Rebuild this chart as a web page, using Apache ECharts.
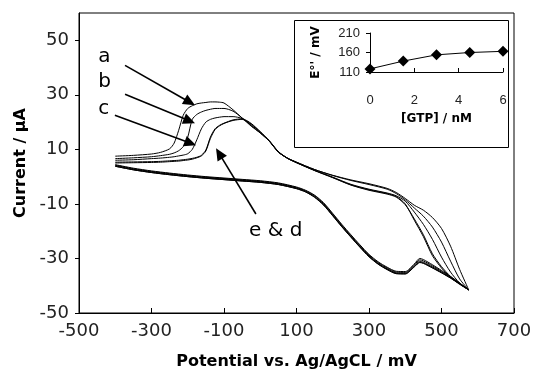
<!DOCTYPE html>
<html><head><meta charset="utf-8">
<script src="https://cdn.jsdelivr.net/npm/echarts@6/dist/echarts.min.js"></script>
<style>html,body{margin:0;padding:0;background:#fff}#c{width:533px;height:372px}</style>
</head><body><div id="c"></div>
<script>
// ---------- main CV data (potential mV, current µA) ----------
const forwardPotential = [-400,-350,-300,-275,-250,-237.5,-225,-212.5,-200,-187.5,-175,-162.5,-150,-137.5,-125,-112.5,-100,-75,-50,-25,0,25,50,75,100,150,200,250,300,350,375,400,425,450,475,500,525,550,575];
const reversePotential = [550,525,500,475,450,440,425,400,375,350,325,300,275,250,225,200,175,150,125,100,50,0,-50,-100,-150,-200,-250,-300,-350,-400];

const curveA_forward = [7.5,7.8,8.3,8.9,10.2,12.3,17.0,22.5,25.0,26.0,26.7,27.0,27.2,27.4,27.4,27.3,27.0,24.5,21.5,18.7,16.0,13.0,9.0,6.8,5.3,2.6,0.5,-1.2,-2.6,-4.3,-5.8,-8.0,-10.5,-12.3,-15.0,-19.0,-25.5,-34.0,-41.5];
const curveB_forward = [6.6,6.9,7.3,7.7,8.2,8.7,9.5,11.0,14.5,21.0,22.8,23.7,24.3,24.7,25.0,25.0,25.0,24.0,21.5,18.5,16.0,13.0,9.0,6.8,5.3,2.6,0.4,-1.4,-2.9,-4.6,-6.2,-8.5,-11.5,-14.5,-18.5,-24.0,-31.0,-37.5,-41.5];
const curveC_forward = [6.0,6.2,6.6,6.8,7.1,7.3,7.6,7.9,8.4,10.0,13.5,17.5,20.0,21.0,21.5,21.8,22.0,22.0,21.3,19.0,16.2,13.0,9.0,6.7,5.1,2.3,-0.2,-2.8,-4.6,-6.0,-7.0,-9.0,-13.0,-17.5,-23.0,-29.5,-35.0,-39.0,-41.5];
const curveD_forward = [5.3,5.4,5.5,5.6,5.8,5.9,6.0,6.2,6.4,6.7,7.1,7.8,9.8,14.5,17.5,18.8,19.6,20.8,21.2,19.5,16.5,13.2,9.2,6.8,5.2,2.3,-0.3,-3.0,-4.8,-6.2,-7.3,-10.0,-16.0,-22.0,-29.0,-33.5,-37.0,-39.5,-41.5];
const curveE_forward = [5.0,5.1,5.2,5.3,5.5,5.6,5.7,5.9,6.1,6.4,6.9,7.6,9.4,14.0,17.2,18.6,19.5,20.6,21.0,19.3,16.4,13.1,9.1,6.7,5.1,2.2,-0.4,-3.1,-5.0,-6.4,-7.5,-10.3,-15.5,-21.3,-28.3,-33.0,-36.6,-39.3,-41.5];

const curveA_reverse = [-39.0,-36.6,-34.4,-32.3,-30.4,-30.0,-32.0,-34.8,-34.7,-33.2,-31.2,-28.5,-25.0,-21.3,-17.5,-13.5,-9.6,-6.8,-5.0,-3.8,-2.3,-1.5,-1.0,-0.5,0.0,0.6,1.3,2.1,3.1,4.4];
const curveB_reverse = [-39.1,-36.8,-34.7,-32.7,-30.9,-30.5,-32.4,-35.1,-35.0,-33.5,-31.5,-28.8,-25.3,-21.6,-17.8,-13.8,-9.9,-7.0,-5.2,-4.0,-2.5,-1.7,-1.2,-0.7,-0.2,0.4,1.1,1.9,2.9,4.2];
const curveC_reverse = [-39.2,-37.0,-35.0,-33.1,-31.4,-31.0,-32.8,-35.4,-35.3,-33.8,-31.8,-29.1,-25.6,-21.9,-18.1,-14.1,-10.2,-7.3,-5.4,-4.2,-2.7,-1.9,-1.4,-0.9,-0.4,0.2,0.9,1.7,2.7,4.0];
const curveD_reverse = [-39.3,-37.2,-35.3,-33.5,-31.8,-31.5,-33.1,-35.7,-35.6,-34.1,-32.1,-29.4,-25.9,-22.2,-18.4,-14.4,-10.5,-7.6,-5.6,-4.4,-2.9,-2.1,-1.6,-1.1,-0.6,0.0,0.7,1.5,2.5,3.8];
const curveE_reverse = [-39.3,-37.2,-35.2,-33.4,-31.7,-31.4,-33.0,-35.6,-35.5,-34.0,-32.0,-29.3,-25.8,-22.1,-18.3,-14.3,-10.4,-7.5,-5.6,-4.4,-2.9,-2.1,-1.6,-1.1,-0.6,0.0,0.7,1.5,2.5,3.8];

const curveNames = ['a','b','c','d','e'];
const xTickValues = [-500,-300,-100,100,300,500,700];
const yTickValues = [-50,-30,-10,10,30,50];

// ---------- inset data ----------
const gtpConc = [0,1.5,3,4.5,6];
const formalPotential = [118,138,154,160,163];
const insetXTicks = [0,2,4,6];
const insetYTicks = [110,160,210];

// ---------- annotations (data coordinates) ----------
const labelTexts = ['a','b','c','e & d'];
const labelPositions = [[-447,44.0],[-447,34.6],[-447,24.8],[-31,-20.0]];
const arrowStarts = [[-373,40.8],[-373,30.2],[-401,22.5],[-12,-13.7]];
const arrowTips   = [[-180,26.2],[-180,19.6],[-177,11.5],[-122,10.4]];

const fwd = [curveA_forward,curveB_forward,curveC_forward,curveD_forward,curveE_forward];
const rev = [curveA_reverse,curveB_reverse,curveC_reverse,curveD_reverse,curveE_reverse];

function loop(i){
  const d = forwardPotential.map((p,k)=>[p,fwd[i][k]]);
  return d.concat(reversePotential.map((p,k)=>[p,rev[i][k]]));
}

const chart = echarts.init(document.getElementById('c'), null, {renderer:'canvas'});
const FONT = 'DejaVu Sans';
const cvSeries = curveNames.map((n,i)=>({
  name:n, type:'line', xAxisIndex:0, yAxisIndex:0, data:loop(i),
  showSymbol:false, smooth:0.25, lineStyle:{color:'#000',width:1}, silent:true, animation:false
}));

chart.setOption({
  animation:false,
  backgroundColor:'#fff',
  grid:[
    {left:79, top:13, right:19, bottom:59, show:true, borderColor:'#000', borderWidth:1, backgroundColor:'transparent', containLabel:false, outerBoundsMode:'none'},
    {left:370, top:33, width:133, height:39, containLabel:false, outerBoundsMode:'none'}
  ],
  xAxis:[
    {type:'value', gridIndex:0, min:-500, max:700, interval:200,
     axisLine:{show:true, onZero:false, lineStyle:{color:'#000',width:1}},
     axisTick:{show:true, inside:true, length:5, lineStyle:{color:'#000'}, customValues:xTickValues},
     axisLabel:{fontFamily:FONT, fontSize:18, color:'#222', margin:9, customValues:xTickValues},
     splitLine:{show:false},
     name:'Potential vs. Ag/AgCL / mV', nameLocation:'middle', nameGap:41,
     nameTextStyle:{fontFamily:FONT, fontWeight:'bold', fontSize:16, color:'#000'}},
    {type:'value', gridIndex:1, min:0, max:6, interval:2,
     axisLine:{show:true, onZero:false, lineStyle:{color:'#000',width:1}},
     axisTick:{show:true, inside:true, length:4, lineStyle:{color:'#000'}, customValues:insetXTicks},
     axisLabel:{fontFamily:'Liberation Sans', fontSize:13, color:'#222', margin:22, customValues:insetXTicks},
     splitLine:{show:false},
     name:'[GTP] / nM', nameLocation:'middle', nameGap:41,
     nameTextStyle:{fontFamily:FONT, fontWeight:'bold', fontSize:12, color:'#000'}}
  ],
  yAxis:[
    {type:'value', gridIndex:0, min:-50, max:60, interval:20,
     axisLine:{show:true, onZero:false, lineStyle:{color:'#000',width:1}},
     axisTick:{show:true, inside:false, length:4, lineStyle:{color:'#000'}, customValues:yTickValues},
     axisLabel:{fontFamily:FONT, fontSize:18, color:'#222', margin:10, customValues:yTickValues},
     splitLine:{show:false},
     name:'Current / μA', nameLocation:'middle', nameGap:44,
     nameTextStyle:{fontFamily:FONT, fontWeight:'bold', fontSize:16, color:'#000'}},
    {type:'value', gridIndex:1, min:110, max:210, interval:50,
     axisLine:{show:true, onZero:false, lineStyle:{color:'#000',width:1}},
     axisTick:{show:true, inside:false, length:4, lineStyle:{color:'#000'}, customValues:insetYTicks},
     axisLabel:{fontFamily:'Liberation Sans', fontSize:13, color:'#222', margin:10, customValues:insetYTicks},
     splitLine:{show:false},
     name:"E°' / mV", nameLocation:'middle', nameGap:48,
     nameTextStyle:{fontFamily:FONT, fontWeight:'bold', fontSize:12, color:'#000'}}
  ],
  series: cvSeries.concat([{
    name:'inset', type:'line', xAxisIndex:1, yAxisIndex:1,
    data: gtpConc.map((g,i)=>[g,formalPotential[i]]),
    symbol:'diamond', symbolSize:11, showSymbol:true,
    itemStyle:{color:'#000'}, lineStyle:{color:'#000',width:1}, silent:true
  }])
});

// annotations, placed from data coordinates
const g = [];
g.push({type:'rect', shape:{x:294.5,y:20.5,width:214,height:127}, style:{fill:'none',stroke:'#000',lineWidth:1}, z:10});
labelTexts.forEach((t,i)=>{
  const p = chart.convertToPixel({gridIndex:0}, labelPositions[i]);
  g.push({type:'text', x:p[0], y:p[1], z:10,
    style:{text:t, font:'20px "DejaVu Sans"', fill:'#000', align:'left', verticalAlign:'middle', textAlign:'left', textVerticalAlign:'middle'}});
});
arrowStarts.forEach((s,i)=>{
  const p0 = chart.convertToPixel({gridIndex:0}, s);
  const p1 = chart.convertToPixel({gridIndex:0}, arrowTips[i]);
  const dx=p1[0]-p0[0], dy=p1[1]-p0[1], L=Math.hypot(dx,dy), ux=dx/L, uy=dy/L;
  const hl=12, hw=5.5;
  const bx=p1[0]-ux*hl, by=p1[1]-uy*hl;
  g.push({type:'line', z:10, shape:{x1:p0[0],y1:p0[1],x2:bx+ux*2,y2:by+uy*2}, style:{stroke:'#000',lineWidth:1.6}});
  g.push({type:'polygon', z:10, shape:{points:[[p1[0],p1[1]],[bx-uy*hw,by+ux*hw],[bx+uy*hw,by-ux*hw]]}, style:{fill:'#000'}});
});
chart.setOption({graphic:g});
</script>
</body></html>
